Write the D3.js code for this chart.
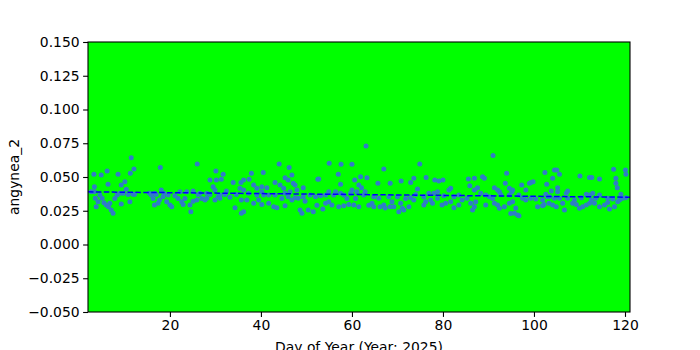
<!DOCTYPE html>
<html><head><meta charset="utf-8">
<script src="https://cdn.jsdelivr.net/npm/d3@7/dist/d3.min.js"></script>
<style>body{margin:0;background:#fff}svg{display:block}</style>
</head><body>
<svg id="c" width="700" height="350"></svg>
<script>
const days = [
2.7,3.3,3.4,3.4,3.6,3.8,4.2,4.6,4.9,5.1,5.5,6.0,6.2,6.4,6.5,6.8,7.1,7.5,7.9,8.4,8.6,9.0,9.3,9.3,9.7,10.1,10.4,10.8,11.2,11.3,11.5,11.9,12.1,12.2,15.5,15.9,16.3,16.6,16.6,17.0,17.4,17.7,17.9,18.1,18.5,18.7,
19.3,19.6,20.0,20.4,21.1,21.8,22.2,22.6,22.9,23.3,23.7,24.4,24.6,25.1,25.1,25.9,26.0,26.2,26.6,27.0,27.7,28.1,28.1,28.8,28.8,29.5,29.9,29.9,30.1,30.2,30.6,31.0,31.0,31.3,31.7,32.1,32.4,33.2,33.9,34.3,34.6,35.4,35.6,35.7,35.7,
36.2,36.2,36.2,36.9,37.3,37.4,37.9,38.4,38.4,39.1,39.1,39.5,40.2,40.2,40.2,40.5,40.6,41.3,41.7,41.7,42.8,43.1,43.1,43.5,44.0,44.2,44.6,45.0,45.3,45.3,45.3,46.0,46.0,46.2,46.4,46.8,46.8,47.1,47.5,47.5,47.9,48.2,48.6,49.0,49.3,49.3,49.7,50.4,50.8,51.5,52.0,52.3,52.5,
52.7,53.1,53.6,54.2,54.2,54.9,54.9,55.0,55.6,56.0,56.4,57.0,57.1,57.5,57.5,57.6,58.2,58.2,58.9,59.3,59.7,60.0,60.0,60.4,60.6,60.8,61.1,61.5,61.5,61.9,62.1,62.6,62.9,63.1,63.3,63.7,64.4,64.8,64.8,65.7,65.9,66.2,67.0,67.0,67.3,68.1,68.4,68.4,68.8,69.2,
70.0,70.3,70.7,70.8,71.1,71.4,71.8,72.5,72.9,72.9,73.6,73.6,74.0,74.4,74.9,75.8,75.8,76.2,76.3,76.9,77.3,77.7,78.0,78.2,78.8,78.8,79.1,79.8,80.0,80.2,80.6,81.3,81.7,81.7,82.4,82.4,83.5,83.5,84.2,85.3,85.6,85.9,86.1,
86.5,86.9,86.9,86.9,87.2,87.6,88.3,88.7,89.1,89.4,89.4,90.2,90.9,91.0,91.3,91.3,92.0,92.0,92.4,92.4,92.7,93.5,93.7,94.0,94.6,94.6,94.6,94.9,95.1,95.3,95.3,95.7,96.0,96.4,96.7,96.7,97.3,97.5,98.2,98.2,99.0,99.3,99.3,99.8,100.4,100.8,101.9,101.9,102.2,102.4,102.6,102.8,103.0,103.3,
103.4,103.8,104.1,104.1,104.5,104.5,104.9,105.0,105.2,105.2,105.6,105.6,106.3,106.7,107.1,107.4,107.4,108.5,108.9,109.3,110.0,110.1,110.4,110.7,111.5,111.5,112.2,112.2,112.2,112.6,112.7,112.9,113.3,113.6,114.4,114.4,114.4,115.5,116.2,116.2,116.6,117.3,117.5,117.7,118.0,118.0,118.3,118.4,118.8,119.1,119.5,120.1,120.2,120.2
];
const values = [
0.0391,0.0520,0.0428,0.0391,0.0342,0.0280,0.0317,0.0367,0.0515,0.0342,0.0310,0.0292,0.0544,0.0446,0.0280,0.0305,0.0255,0.0231,0.0340,0.0367,0.0520,0.0380,0.0441,0.0300,0.0379,0.0465,0.0410,0.0370,0.0317,0.0527,0.0643,0.0372,0.0559,0.0370,0.0379,0.0367,0.0340,0.0292,0.0380,0.0370,0.0305,0.0329,0.0571,0.0404,0.0354,0.0380,
0.0317,0.0367,0.0292,0.0280,0.0362,0.0340,0.0391,0.0317,0.0297,0.0340,0.0391,0.0292,0.0243,0.0396,0.0320,0.0329,0.0596,0.0370,0.0379,0.0340,0.0329,0.0379,0.0342,0.0478,0.0370,0.0428,0.0404,0.0330,0.0544,0.0478,0.0354,0.0367,0.0342,0.0483,0.0520,0.0370,0.0396,0.0350,0.0460,0.0273,0.0370,0.0416,0.0460,0.0231,0.0329,
0.0478,0.0404,0.0243,0.0330,0.0379,0.0483,0.0527,0.0441,0.0305,0.0416,0.0367,0.0330,0.0428,0.0297,0.0390,0.0534,0.0367,0.0421,0.0367,0.0305,0.0280,0.0460,0.0367,0.0273,0.0596,0.0441,0.0340,0.0416,0.0495,0.0287,0.0380,0.0478,0.0354,0.0571,0.0390,0.0515,0.0329,0.0453,0.0441,0.0347,0.0404,0.0342,0.0255,0.0231,0.0421,0.0354,0.0320,0.0255,0.0367,0.0243,0.0354,0.0290,0.0483,
0.0485,0.0362,0.0263,0.0367,0.0305,0.0391,0.0317,0.0601,0.0292,0.0367,0.0391,0.0520,0.0280,0.0446,0.0379,0.0594,0.0367,0.0287,0.0340,0.0297,0.0379,0.0594,0.0404,0.0292,0.0478,0.0340,0.0391,0.0441,0.0280,0.0502,0.0421,0.0367,0.0391,0.0730,0.0495,0.0290,0.0305,0.0354,0.0280,0.0453,0.0342,0.0280,0.0559,0.0292,0.0270,0.0354,0.0453,0.0280,0.0317,0.0280,
0.0354,0.0243,0.0305,0.0470,0.0268,0.0255,0.0340,0.0280,0.0460,0.0347,0.0490,0.0329,0.0370,0.0411,0.0596,0.0354,0.0292,0.0317,0.0497,0.0379,0.0329,0.0305,0.0379,0.0478,0.0391,0.0342,0.0470,0.0292,0.0478,0.0362,0.0305,0.0404,0.0416,0.0317,0.0354,0.0273,0.0367,0.0292,0.0330,0.0342,0.0485,0.0436,0.0305,
0.0255,0.0490,0.0404,0.0280,0.0317,0.0421,0.0379,0.0502,0.0490,0.0367,0.0292,0.0354,0.0340,0.0660,0.0421,0.0305,0.0404,0.0292,0.0391,0.0268,0.0370,0.0280,0.0453,0.0527,0.0416,0.0367,0.0305,0.0230,0.0391,0.0404,0.0317,0.0231,0.0270,0.0218,0.0367,0.0213,0.0441,0.0342,0.0404,0.0330,0.0453,0.0460,0.0342,0.0465,0.0337,0.0280,0.0329,0.0287,0.0297,0.0534,0.0372,0.0446,0.0354,0.0305,
0.0354,0.0396,0.0490,0.0292,0.0552,0.0342,0.0280,0.0552,0.0421,0.0391,0.0520,0.0342,0.0305,0.0255,0.0379,0.0396,0.0342,0.0305,0.0329,0.0297,0.0268,0.0507,0.0347,0.0280,0.0372,0.0292,0.0497,0.0367,0.0305,0.0329,0.0497,0.0379,0.0305,0.0342,0.0485,0.0367,0.0280,0.0292,0.0342,0.0312,0.0263,0.0337,0.0557,0.0280,0.0490,0.0453,0.0421,0.0317,0.0329,0.0372,0.0342,0.0552,0.0520,0.0347
];
const trendDays = [2.0, 121.1];
const trendValues = [0.0390, 0.0350];
const xTicks = [20, 40, 60, 80, 100, 120];
const yTicks = [-0.05, -0.025, 0, 0.025, 0.05, 0.075, 0.1, 0.125, 0.15];
const xLabel = "Day of Year (Year: 2025)";
const yLabel = "angynea_2";

const L = 88, R = 630, T = 42, B = 312;
const svg = d3.select("#c");
const x = d3.scaleLinear().domain([2.0, 121.1]).range([L, R]);
const y = d3.scaleLinear().domain([-0.05, 0.15]).range([B, T]);
const font = "DejaVu Sans, sans-serif";

svg.append("rect").attr("x", L).attr("y", T).attr("width", R - L).attr("height", B - T).attr("fill", "#00ff00");

const clip = svg.append("clipPath").attr("id", "clp").append("rect").attr("x", L).attr("y", T).attr("width", R - L).attr("height", B - T);
const g = svg.append("g").attr("clip-path", "url(#clp)");

const pts = days.map((d, i) => [d, values[i]]);
g.selectAll("circle").data(pts).enter().append("circle")
  .attr("cx", d => x(d[0])).attr("cy", d => y(d[1])).attr("r", 2.5)
  .attr("fill", "#2f7ec6");

g.append("path")
  .datum(trendDays.map((d, i) => [d, trendValues[i]]))
  .attr("d", d3.line().x(d => x(d[0])).y(d => y(d[1])))
  .attr("fill", "none").attr("stroke", "#0000ff").attr("stroke-width", 1.5)
  .attr("stroke-dasharray", "5.5,2.4");

const fmt = v => d3.format(".3f")(v).replace("-", "\u2212");
const xa = svg.append("g").attr("transform", `translate(0,${B})`)
  .call(d3.axisBottom(x).tickValues(xTicks).tickSize(4.9).tickPadding(3.5).tickFormat(d3.format("d")));
const ya = svg.append("g").attr("transform", `translate(${L},0)`)
  .call(d3.axisLeft(y).tickValues(yTicks).tickSize(4.9).tickPadding(3.5).tickFormat(fmt));
[xa, ya].forEach(a => {
  a.select(".domain").remove();
  a.selectAll("line").attr("stroke", "#000").attr("stroke-width", 1.1);
  a.selectAll("text").attr("font-family", font).attr("font-size", 13.9).attr("fill", "#000");
});

svg.append("rect").attr("x", L).attr("y", T).attr("width", R - L).attr("height", B - T)
  .attr("fill", "none").attr("stroke", "#000").attr("stroke-width", 1.1);

svg.append("text").attr("x", (L + R) / 2).attr("y", 352).attr("text-anchor", "middle")
  .attr("font-family", font).attr("font-size", 13.9).text(xLabel);
svg.append("text").attr("transform", `translate(19,${(T + B) / 2}) rotate(-90)`)
  .attr("text-anchor", "middle").attr("font-family", font).attr("font-size", 13.9).text(yLabel);
</script>
</body></html>
